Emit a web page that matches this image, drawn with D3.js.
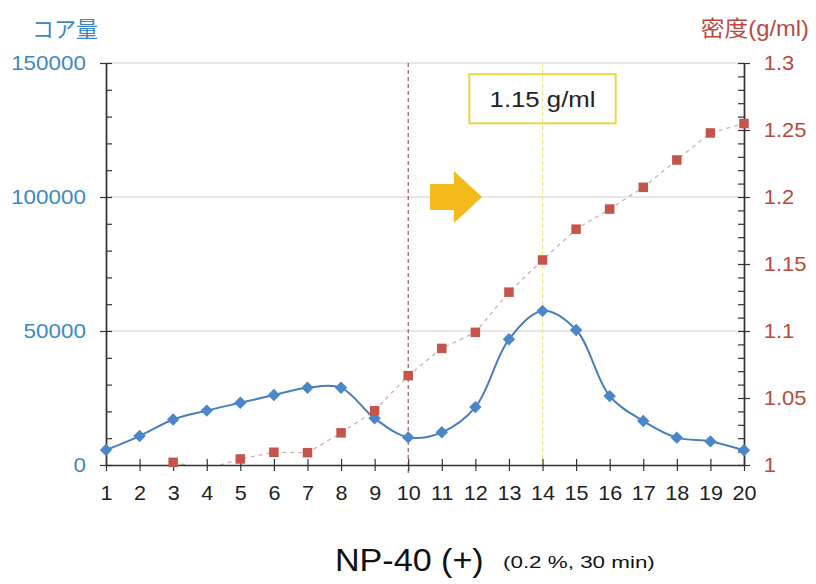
<!DOCTYPE html>
<html>
<head>
<meta charset="utf-8">
<script src="https://cdn.jsdelivr.net/npm/d3@7"></script>
<style>
  body { margin: 0; background: #fff; }
  #chart { width: 816px; height: 584px; }
  text { font-family: "Liberation Sans", Arial, sans-serif; }
</style>
</head>
<body>
<div id="chart"></div>
<script>
// Fractions 1..20
const fractions = d3.range(1, 21);
// Core amount (left axis)
const coreAmount = [5600, 10800, 17000, 20300, 23200, 26100, 28800, 28800, 17400, 10300,
                    12200, 21600, 46900, 57500, 50400, 25700, 16400, 10200, 8800, 5500];
// Density g/ml (right axis); fraction 4 sits just under the axis floor
const density = [null, null, 1.002, 0.997, 1.0045, 1.0095, 1.0092, 1.024, 1.0405, 1.0667,
                 1.087, 1.099, 1.129, 1.153, 1.176, 1.191, 1.2072, 1.2276, 1.2478, 1.2548];

const leftTicks = [0, 50000, 100000, 150000];
const rightTicks = [1, 1.05, 1.1, 1.15, 1.2, 1.25, 1.3];
const markerLines = [10, 14];
const boxLabel = "1.15 g/ml";

const FractionChart = (() => {
  const CONFIG = {
    width: 816,
    height: 584,
    margin: { top: 63, right: 72, bottom: 119, left: 106 },
  };

  const COLORS = {
    core: "#4a7ebb",
    coreMarker: "#4a86c8",
    density: "#c4544c",
    densityLine: "#d2b0ae",
    leftText: "#3b88c4",
    rightText: "#b94a3f",
    axis: "#333",
    grid: "#cfcfcf",
    line10: "#a04060",
    line14: "#ece676",
    box: "#e6d64a",
    arrow: "#f4ba1c",
  };

  function stretch(sel, sx) {
    sel.attr("transform", `scale(${sx},1)`);
  }

  function render() {
    const { width, height, margin } = CONFIG;
    const innerW = width - margin.left - margin.right;
    const innerH = height - margin.top - margin.bottom;

    const svg = d3.select("#chart").append("svg")
      .attr("width", width)
      .attr("height", height);

    const g = svg.append("g")
      .attr("transform", `translate(${margin.left},${margin.top})`);

    svg.append("defs").append("clipPath").attr("id", "plot-clip")
      .append("rect").attr("x", 0).attr("y", 0)
      .attr("width", innerW).attr("height", innerH);

    const x = d3.scaleLinear().domain([1, 20]).range([0, innerW]);
    const yLeft = d3.scaleLinear().domain([0, 150000]).range([innerH, 0]);
    const yRight = d3.scaleLinear().domain([1, 1.3]).range([innerH, 0]);

    // Gridlines
    g.append("g")
      .selectAll("line")
      .data(leftTicks.filter((d) => d > 0))
      .enter().append("line")
      .attr("x1", 0).attr("x2", innerW)
      .attr("y1", (d) => yLeft(d)).attr("y2", (d) => yLeft(d))
      .attr("stroke", COLORS.grid).attr("stroke-width", 1);

    // Vertical reference lines at fraction 10 and 14
    g.append("line")
      .attr("x1", x(markerLines[0])).attr("x2", x(markerLines[0]))
      .attr("y1", 0).attr("y2", innerH + 8)
      .attr("stroke", COLORS.line10).attr("stroke-width", 1.1)
      .attr("stroke-dasharray", "4,3");
    g.append("line")
      .attr("x1", x(markerLines[1])).attr("x2", x(markerLines[1]))
      .attr("y1", 0).attr("y2", innerH)
      .attr("stroke", COLORS.line14).attr("stroke-width", 1.1)
      .attr("stroke-dasharray", "4,3");

    // Annotation box
    const box = { x0: 11.82, x1: 16.18, top: 145800, bottom: 127500 };
    g.append("rect")
      .attr("x", x(box.x0)).attr("y", yLeft(box.top))
      .attr("width", x(box.x1) - x(box.x0))
      .attr("height", yLeft(box.bottom) - yLeft(box.top))
      .attr("fill", "none").attr("stroke", COLORS.box).attr("stroke-width", 2);
    g.append("g")
      .attr("transform", `translate(${x(14)},${yLeft((box.top + box.bottom) / 2) + 8})`)
      .append("text")
      .attr("text-anchor", "middle")
      .attr("fill", "#222")
      .style("font-size", "23px")
      .text(boxLabel)
      .call(stretch, 1.12);

    // Arrow
    const arrow = { x0: 10.65, xh: 11.36, x1: 12.2, y: 100000 };
    const ay = yLeft(arrow.y);
    g.append("path")
      .attr("d", `M${x(arrow.x0)},${ay - 13}L${x(arrow.xh)},${ay - 13}L${x(arrow.xh)},${ay - 26}` +
        `L${x(arrow.x1)},${ay}L${x(arrow.xh)},${ay + 26}L${x(arrow.xh)},${ay + 13}L${x(arrow.x0)},${ay + 13}Z`)
      .attr("fill", COLORS.arrow);

    // Density dashed line + squares
    const densityPts = fractions
      .map((f, i) => ({ f, v: density[i] }))
      .filter((d) => d.v !== null);

    g.append("path")
      .datum(densityPts)
      .attr("clip-path", "url(#plot-clip)")
      .attr("fill", "none")
      .attr("stroke", COLORS.densityLine)
      .attr("stroke-width", 1.3)
      .attr("stroke-dasharray", "4,4")
      .attr("d", d3.line().x((d) => x(d.f)).y((d) => yRight(d.v)));

    // Core amount smooth line
    const corePts = fractions.map((f, i) => ({ f, v: coreAmount[i] }));
    g.append("path")
      .datum(corePts)
      .attr("fill", "none")
      .attr("stroke", COLORS.core)
      .attr("stroke-width", 2)
      .attr("d", d3.line().curve(d3.curveCatmullRom.alpha(0.5))
        .x((d) => x(d.f)).y((d) => yLeft(d.v)));

    // Axes
    const axisStyle = (sel) => {
      sel.select(".domain").attr("stroke", COLORS.axis).attr("stroke-width", 1.4);
      sel.selectAll(".tick line").attr("stroke", COLORS.axis).attr("stroke-width", 1.2);
    };

    const leftMinor = d3.range(10000, 150000, 10000).filter((d) => d % 50000 !== 0);
    g.append("g")
      .call(d3.axisLeft(yLeft).tickValues(leftMinor).tickSize(-6).tickSizeOuter(0).tickFormat(""))
      .call(axisStyle);
    const leftAxis = g.append("g")
      .call(d3.axisLeft(yLeft).tickValues(leftTicks).tickSize(6).tickSizeOuter(0).tickPadding(12)
        .tickFormat(d3.format("d")))
      .call(axisStyle);
    leftAxis.selectAll(".tick line").attr("x1", 6);
    leftAxis.selectAll(".tick text")
      .attr("fill", COLORS.leftText).style("font-size", "20px")
      .call(stretch, 1.12);

    const rightMinor = d3.range(1, 30).map((i) => 1 + i * 0.01).filter((d) => Math.round(d * 100) % 5 !== 0);
    const rightG = g.append("g").attr("transform", `translate(${innerW},0)`);
    rightG.append("g")
      .call(d3.axisRight(yRight).tickValues(rightMinor).tickSize(-6).tickSizeOuter(0).tickFormat(""))
      .call(axisStyle);
    const rightAxis = rightG.append("g")
      .call(d3.axisRight(yRight).tickValues(rightTicks).tickSize(6).tickSizeOuter(0).tickPadding(12)
        .tickFormat(d3.format("~g")))
      .call(axisStyle);
    rightAxis.selectAll(".tick line").attr("x1", -6);
    rightAxis.selectAll(".tick text")
      .attr("fill", COLORS.rightText).style("font-size", "20px")
      .call(stretch, 1.1);

    const xAxis = g.append("g")
      .attr("transform", `translate(0,${innerH})`)
      .call(d3.axisBottom(x).tickValues(fractions).tickSize(6).tickSizeOuter(0).tickPadding(15)
        .tickFormat(d3.format("d")))
      .call(axisStyle);
    xAxis.selectAll(".tick line").attr("y1", -6);
    xAxis.selectAll(".tick text")
      .attr("fill", "#222").style("font-size", "20px")
      .call(stretch, 1.08);

    // Core markers (diamonds)
    const r = 6.2;
    g.append("g")
      .selectAll("path")
      .data(corePts)
      .enter().append("path")
      .attr("d", (d) => {
        const cx = x(d.f), cy = yLeft(d.v);
        return `M${cx},${cy - r}L${cx + r},${cy}L${cx},${cy + r}L${cx - r},${cy}Z`;
      })
      .attr("fill", COLORS.coreMarker);

    // Density markers (squares), only those inside the axis range
    const s = 9.5;
    g.append("g")
      .selectAll("rect")
      .data(densityPts.filter((d) => d.v >= 1))
      .enter().append("rect")
      .attr("x", (d) => x(d.f) - s / 2)
      .attr("y", (d) => yRight(d.v) - s / 2)
      .attr("width", s).attr("height", s)
      .attr("fill", COLORS.density);

    // Axis titles
    svg.append("text")
      .attr("x", 32).attr("y", 37)
      .attr("fill", COLORS.leftText)
      .style("font-family", "'Noto Sans CJK JP', sans-serif")
      .style("font-size", "22px")
      .text("コア量");

    svg.append("g").attr("transform", "translate(809,36)")
      .append("text")
      .attr("text-anchor", "end")
      .attr("fill", COLORS.rightText)
      .style("font-size", "22px")
      .call((t) => {
        t.append("tspan").style("font-family", "'Noto Sans CJK JP', sans-serif").text("密度");
        t.append("tspan").text("(g/ml)");
      })
      .call(stretch, 1.08);

    // Bottom title
    svg.append("g").attr("transform", "translate(335,571)")
      .append("text")
      .attr("fill", "#111")
      .style("font-size", "31px")
      .text("NP-40 (+)")
      .call(stretch, 1.1);

    svg.append("g").attr("transform", "translate(503,568)")
      .append("text")
      .attr("fill", "#111")
      .style("font-size", "16px")
      .text("(0.2 %, 30 min)")
      .call(stretch, 1.4);
  }

  return { render };
})();

FractionChart.render();
</script>
</body>
</html>
